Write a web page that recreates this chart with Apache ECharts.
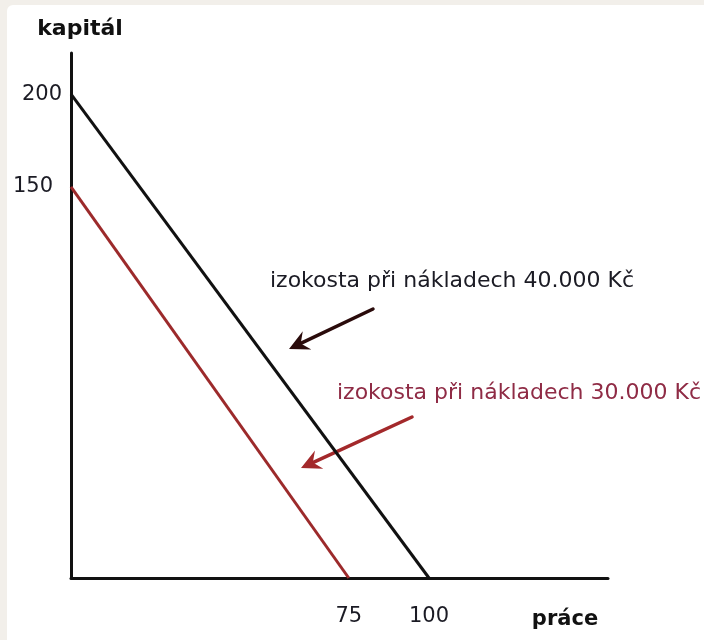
<!DOCTYPE html>
<html>
<head>
<meta charset="utf-8">
<script src="https://cdn.jsdelivr.net/npm/echarts@6/dist/echarts.min.js"></script>
<style>
  html, body { margin: 0; padding: 0; background: #f2efea; }
  #main { width: 704px; height: 640px; }
</style>
</head>
<body>
<div id="main"></div>
<script>
// izokosty - kapitál / práce
const naklady = ['40.000', '30.000'];   // Kč
const kapital = [200, 150];             // průsečík s osou y
const prace = [100, 75];                // průsečík s osou x
const barvy = ['#111111', '#9c2a2b'];
const textBarvy = ['#1b1b24', '#8f2b45'];
const sipkaBarvy = ['#2a0b0b', '#a3292b'];

// schema neni v meritku, kazda izokosta ma svoje osy
const xMax = [150, 145];
const yMax = [217, 201.4];
const yLabelMargin = [9, 18];

// popisky a sipky (pixely)
const popisky = [[270, 281], [337, 393]];
const sipky = [[[373, 309], [289, 349]], [[412, 417], [301, 468]]];

const FONT = '"DejaVu Sans", Verdana, sans-serif';

function arrow(from, to, color) {
  const dx = to[0] - from[0], dy = to[1] - from[1];
  const len = Math.sqrt(dx * dx + dy * dy);
  const ux = dx / len, uy = dy / len;
  const px = -uy, py = ux;
  const hl = 20, hw = 10, notch = 13;
  const base = [to[0] - ux * hl, to[1] - uy * hl];
  const nb = [to[0] - ux * notch, to[1] - uy * notch];
  return [
    {
      type: 'line',
      shape: { x1: from[0], y1: from[1], x2: nb[0], y2: nb[1] },
      style: { stroke: color, lineWidth: 3.5, lineCap: 'round' }
    },
    {
      type: 'polygon',
      shape: {
        points: [
          to,
          [base[0] + px * hw, base[1] + py * hw],
          nb,
          [base[0] - px * hw, base[1] - py * hw]
        ]
      },
      style: { fill: color }
    }
  ];
}

const chart = echarts.init(document.getElementById('main'), null, { renderer: 'canvas' });

const xAxes = xMax.map((m, i) => ({
  type: 'value',
  min: 0,
  max: m,
  position: 'bottom',
  axisLine: { show: i === 0, lineStyle: { color: '#111', width: 3 } },
  axisTick: { show: false },
  splitLine: { show: false },
  axisLabel: {
    customValues: [prace[i]],
    margin: 28,
    fontSize: 21,
    fontFamily: FONT,
    color: '#1b1b24'
  }
}));

const yAxes = yMax.map((m, i) => ({
  type: 'value',
  min: 0,
  max: m,
  position: 'left',
  axisLine: { show: i === 0, lineStyle: { color: '#111', width: 3 } },
  axisTick: { show: false },
  splitLine: { show: false },
  axisLabel: {
    customValues: [kapital[i]],
    margin: yLabelMargin[i],
    fontSize: 21,
    fontFamily: FONT,
    color: '#1b1b24'
  }
}));

const series = kapital.map((k, i) => ({
  name: 'izokosta ' + naklady[i],
  type: 'line',
  xAxisIndex: i,
  yAxisIndex: i,
  symbol: 'none',
  z: 5 - i,
  lineStyle: { color: barvy[i], width: 3 },
  data: [[0, k], [prace[i], 0]]
}));

let graphic = [
  {
    type: 'rect',
    z: -10,
    shape: { x: 7, y: 5, width: 704, height: 640, r: 6 },
    style: { fill: '#ffffff' }
  },
  {
    type: 'text',
    x: 80, y: 29,
    style: { text: 'kapitál', font: 'bold 22px ' + FONT, fill: '#111', textAlign: 'center', textVerticalAlign: 'middle' }
  },
  {
    type: 'text',
    x: 565, y: 620,
    style: { text: 'práce', font: 'bold 21px ' + FONT, fill: '#111', textAlign: 'center', textVerticalAlign: 'middle' }
  }
];
naklady.forEach((n, i) => {
  graphic.push({
    type: 'text',
    x: popisky[i][0], y: popisky[i][1],
    style: {
      text: 'izokosta při nákladech ' + n + ' Kč',
      font: '22px ' + FONT,
      fill: textBarvy[i],
      textAlign: 'left',
      textVerticalAlign: 'middle'
    }
  });
  graphic = graphic.concat(arrow(sipky[i][0], sipky[i][1], sipkaBarvy[i]));
});

chart.setOption({
  backgroundColor: '#f2efea',
  animation: false,
  grid: { left: 71, right: 96, top: 53, bottom: 62, containLabel: false },
  xAxis: xAxes,
  yAxis: yAxes,
  series: series,
  graphic: graphic
});
</script>
</body>
</html>
